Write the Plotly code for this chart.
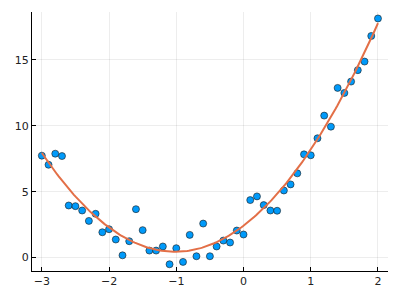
import numpy as np
import plotly.graph_objects as go

x_vals = [-3.0, -2.9, -2.8, -2.7, -2.6, -2.5, -2.4, -2.3, -2.2, -2.1, -2.0,
          -1.9, -1.8, -1.7, -1.6, -1.5, -1.4, -1.3, -1.2, -1.1, -1.0,
          -0.9, -0.8, -0.7, -0.6, -0.5, -0.4, -0.3, -0.2, -0.1, 0.0,
          0.1, 0.2, 0.3, 0.4, 0.5, 0.6, 0.7, 0.8, 0.9, 1.0,
          1.1, 1.2, 1.3, 1.4, 1.5, 1.6, 1.7, 1.8, 1.9, 2.0]
y_vals = [7.73, 7.04, 7.88, 7.70, 3.95, 3.90, 3.57, 2.78, 3.32, 1.92, 2.15,
          1.37, 0.17, 1.24, 3.67, 2.08, 0.53, 0.53, 0.84, -0.51, 0.71,
          -0.33, 1.72, 0.10, 2.58, 0.10, 0.84, 1.29, 1.14, 2.05, 1.75,
          4.36, 4.64, 3.98, 3.57, 3.55, 5.09, 5.55, 6.39, 7.83, 7.76,
          9.05, 10.77, 9.93, 12.87, 12.49, 13.35, 14.22, 14.87, 16.81, 18.14]
x_ticks = [-3, -2, -1, 0, 1, 2]
y_ticks = [0, 5, 10, 15]

coef = np.polyfit(x_vals, y_vals, 2)
fit_x = np.linspace(min(x_vals), max(x_vals), 200)
fit_y = np.polyval(coef, fit_x)

fig = go.Figure()
fig.add_trace(go.Scatter(
    x=x_vals, y=y_vals, mode="markers",
    marker=dict(color="#009AFA", size=7, line=dict(color="#1a1a1a", width=0.6)),
    showlegend=False))
fig.add_trace(go.Scatter(
    x=fit_x, y=fit_y, mode="lines",
    line=dict(color="#E36F47", width=2), showlegend=False))

axis_common = dict(
    showline=True, linecolor="black", linewidth=1.2, mirror=False,
    ticks="inside", ticklen=4, tickcolor="black", tickwidth=1,
    showgrid=True, gridcolor="rgba(0,0,0,0.07)", gridwidth=1,
    zeroline=False, tickfont=dict(family="DejaVu Sans", size=11, color="#222222"),
)
fig.update_xaxes(range=[-3.146, 2.149], tickvals=x_ticks, **axis_common)
fig.update_yaxes(range=[-1.02, 18.63], tickvals=y_ticks, **axis_common)
fig.update_layout(
    width=400, height=300,
    margin=dict(l=32, r=12, t=12, b=29),
    plot_bgcolor="white", paper_bgcolor="white",
)
fig.write_html("out.html")
